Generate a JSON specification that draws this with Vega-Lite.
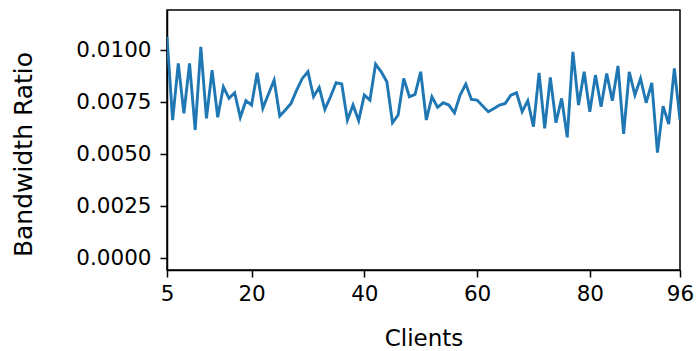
{
  "$schema": "https://vega.github.io/schema/vega-lite/v6.json",
  "width": 513,
  "height": 260,
  "autosize": "none",
  "padding": {"left": 167, "top": 10, "right": 16, "bottom": 81},
  "background": "white",
  "config": {
    "view": {"stroke": "black", "strokeWidth": 1.5},
    "font": "DejaVu Sans",
    "axis": {
      "grid": false,
      "domainColor": "black",
      "domainWidth": 1.5,
      "tickColor": "black",
      "tickWidth": 1.5,
      "tickSize": 7,
      "labelFont": "DejaVu Sans",
      "labelFontSize": 21.5,
      "labelColor": "black",
      "titleFont": "DejaVu Sans",
      "titleFontWeight": "normal",
      "titleColor": "black"
    }
  },
  "data": {
    "values": [
      {"c": 5, "v": 0.01065}, {"c": 6, "v": 0.00665}, {"c": 7, "v": 0.00937}, {"c": 8, "v": 0.00697},
      {"c": 9, "v": 0.00937}, {"c": 10, "v": 0.00617}, {"c": 11, "v": 0.01017}, {"c": 12, "v": 0.00673},
      {"c": 13, "v": 0.00905}, {"c": 14, "v": 0.00678}, {"c": 15, "v": 0.00825}, {"c": 16, "v": 0.00769},
      {"c": 17, "v": 0.00796}, {"c": 18, "v": 0.00678}, {"c": 19, "v": 0.00758}, {"c": 20, "v": 0.00737},
      {"c": 21, "v": 0.00892}, {"c": 22, "v": 0.00721}, {"c": 23, "v": 0.0079}, {"c": 24, "v": 0.00857},
      {"c": 25, "v": 0.00684}, {"c": 26, "v": 0.00713}, {"c": 27, "v": 0.00745}, {"c": 28, "v": 0.00809},
      {"c": 29, "v": 0.00865}, {"c": 30, "v": 0.00897}, {"c": 31, "v": 0.00777}, {"c": 32, "v": 0.00822},
      {"c": 33, "v": 0.00716}, {"c": 34, "v": 0.00777}, {"c": 35, "v": 0.00844}, {"c": 36, "v": 0.00838},
      {"c": 37, "v": 0.00665}, {"c": 38, "v": 0.00737}, {"c": 39, "v": 0.00662}, {"c": 40, "v": 0.00785},
      {"c": 41, "v": 0.00761}, {"c": 42, "v": 0.00934}, {"c": 43, "v": 0.00897}, {"c": 44, "v": 0.00849},
      {"c": 45, "v": 0.00652}, {"c": 46, "v": 0.00689}, {"c": 47, "v": 0.00865}, {"c": 48, "v": 0.00777},
      {"c": 49, "v": 0.00788}, {"c": 50, "v": 0.00897}, {"c": 51, "v": 0.00665}, {"c": 52, "v": 0.00777},
      {"c": 53, "v": 0.00726}, {"c": 54, "v": 0.00748}, {"c": 55, "v": 0.00737}, {"c": 56, "v": 0.007},
      {"c": 57, "v": 0.00785}, {"c": 58, "v": 0.00838}, {"c": 59, "v": 0.00764}, {"c": 60, "v": 0.00761},
      {"c": 61, "v": 0.00732}, {"c": 62, "v": 0.00705}, {"c": 63, "v": 0.00721}, {"c": 64, "v": 0.00737},
      {"c": 65, "v": 0.00745}, {"c": 66, "v": 0.00785}, {"c": 67, "v": 0.00796}, {"c": 68, "v": 0.00705},
      {"c": 69, "v": 0.00758}, {"c": 70, "v": 0.00633}, {"c": 71, "v": 0.00892}, {"c": 72, "v": 0.00625},
      {"c": 73, "v": 0.0087}, {"c": 74, "v": 0.00652}, {"c": 75, "v": 0.00769}, {"c": 76, "v": 0.00582},
      {"c": 77, "v": 0.00993}, {"c": 78, "v": 0.00737}, {"c": 79, "v": 0.00897}, {"c": 80, "v": 0.00705},
      {"c": 81, "v": 0.00881}, {"c": 82, "v": 0.00729}, {"c": 83, "v": 0.00889}, {"c": 84, "v": 0.00758},
      {"c": 85, "v": 0.00925}, {"c": 86, "v": 0.00598}, {"c": 87, "v": 0.00897}, {"c": 88, "v": 0.00785},
      {"c": 89, "v": 0.00865}, {"c": 90, "v": 0.00748}, {"c": 91, "v": 0.00844}, {"c": 92, "v": 0.00508},
      {"c": 93, "v": 0.00732}, {"c": 94, "v": 0.00646}, {"c": 95, "v": 0.00913}, {"c": 96, "v": 0.00665}
    ]
  },
  "mark": {"type": "line", "color": "#1f77b4", "strokeWidth": 2.9, "clip": true},
  "encoding": {
    "x": {
      "field": "c",
      "type": "quantitative",
      "title": "Clients",
      "scale": {"domain": [5, 96], "nice": false, "zero": false},
      "axis": {"values": [5, 20, 40, 60, 80, 96], "labelPadding": 6, "titlePadding": 23, "titleFontSize": 23, "labelFlush": false}
    },
    "y": {
      "field": "v",
      "type": "quantitative",
      "title": "Bandwidth Ratio",
      "scale": {"domain": [-0.00056, 0.01194], "nice": false, "zero": false},
      "axis": {
        "values": [0, 0.0025, 0.005, 0.0075, 0.01],
        "format": ".4f",
        "labelPadding": 9,
        "titleFontSize": 25,
        "titleX": -144,
        "titleY": 144,
        "titleAngle": 270,
        "titleBaseline": "middle",
        "titleAlign": "center"
      }
    }
  }
}
